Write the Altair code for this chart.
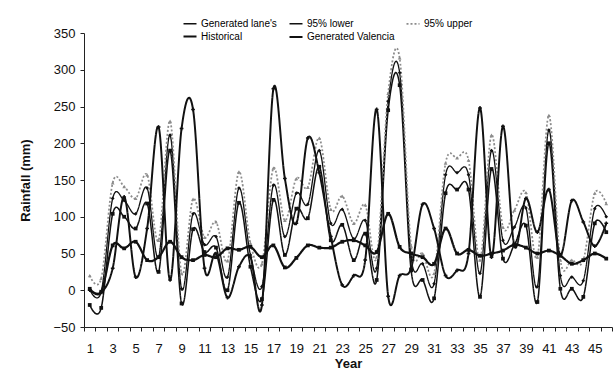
import altair as alt
import pandas as pd

years = list(range(1, 47))

historical = [0, -3, 30, 127, 18, 84, 222, 14, 220, 246, 30, 50, -10, 32, 45, -20,
              274, 152, 91, 207, 160, 73, 7, 20, 41, 246, -8, 20, 30, 117, 84, 20,
              27, 50, 248, 45, 223, 60, 125, 79, 137, 48, 122, 93, 60, 91]
upper = [20, 16, 146, 141, 125, 157, 68, 230, 23, 124, 72, 93, 40, 161, 64, 36,
         166, 95, 152, 140, 207, 110, 128, 91, 116, 45, 268, 316, 60, 50, 23, 173,
         180, 177, 41, 211, 86, 109, 133, 45, 238, 41, 41, 41, 132, 118]
lanes = [1, -2, 125, 122, 104, 139, 45, 211, 2, 104, 62, 73, 18, 139, 48, 5,
         143, 73, 132, 117, 190, 91, 110, 70, 95, 30, 257, 296, 45, 36, 9, 157,
         160, 157, 23, 190, 68, 86, 112, 5, 218, 20, 18, 13, 111, 100]
lower = [-20, -24, 104, 100, 84, 118, 25, 190, -18, 83, 52, 58, 0, 119, 32, -12,
         123, 48, 111, 98, 168, 68, 89, 41, 77, 14, 245, 279, 27, 14, -11, 132,
         137, 137, -9, 165, 43, 62, 88, -16, 200, 2, 2, -9, 91, 79]
valencia = [2, -2, 61, 57, 66, 41, 45, 66, 45, 41, 48, 45, 57, 55, 59, 45,
            61, 31, 44, 61, 58, 58, 66, 68, 61, 52, 104, 59, 50, 45, 36, 84,
            50, 55, 47, 50, 54, 62, 58, 50, 54, 47, 36, 41, 50, 43]

series_names = ["Generated lane's", "95% lower", "95% upper", "Historical", "Generated Valencia"]
series_data = {
    "Generated lane's": lanes,
    "95% lower": lower,
    "95% upper": upper,
    "Historical": historical,
    "Generated Valencia": valencia,
}

rows = []
for name in series_names:
    for y, v in zip(years, series_data[name]):
        rows.append({"year": y, "series": name, "value": v})
df = pd.DataFrame(rows)

FONT = "Liberation Sans, Arial, sans-serif"

colors = ["#111111", "#111111", "#8c8c8c", "#111111", "#111111"]
dashes = [[1, 0], [1, 0], [2, 2], [1, 0], [1, 0]]
widths = [1.3, 2.2, 1.2, 1.8, 1.3]
shapes = ["diamond", "square", "triangle-up", "cross", "square"]

tick_vals = [i + 0.5 for i in range(0, 47)]

x_enc = alt.X(
    "year:Q",
    scale=alt.Scale(domain=[0.5, 46.5], nice=False, zero=False),
    axis=alt.Axis(
        values=tick_vals,
        labelExpr="((datum.value + 0.5) % 2 == 1 && datum.value + 0.5 <= 45) ? format(datum.value + 0.5, 'd') : ''",
        labelOffset=5.74,
        labelOverlap=False,
        labelFlush=False,
        tickSize=4,
        labelPadding=11,
        grid=False,
        title="Year",
        titlePadding=2,
    ),
)
y_enc = alt.Y(
    "value:Q",
    scale=alt.Scale(domain=[-50, 350], nice=False, zero=False),
    axis=alt.Axis(
        values=list(range(-50, 351, 50)),
        grid=False,
        tickSize=4,
        labelPadding=5,
        title="Rainfall (mm)",
        titlePadding=20,
    ),
)

legend_common = dict(
    title=None,
    orient="none",
    legendX=98,
    legendY=-17,
    columns=3,
    direction="horizontal",
    symbolType="stroke",
    symbolSize=169,
    symbolStrokeWidth=1.5,
    labelFont=FONT,
    labelFontSize=10,
    labelOffset=3,
    columnPadding=8,
    rowPadding=-1,
    labelLimit=200,
)

lines = alt.Chart(df).mark_line(interpolate="cardinal").encode(
    x=x_enc,
    y=y_enc,
    color=alt.Color("series:N", scale=alt.Scale(domain=series_names, range=colors),
                    legend=alt.Legend(**legend_common), sort=series_names),
    strokeDash=alt.StrokeDash("series:N", scale=alt.Scale(domain=series_names, range=dashes),
                              legend=alt.Legend(**legend_common), sort=series_names),
    strokeWidth=alt.StrokeWidth("series:N", scale=alt.Scale(domain=series_names, range=widths), legend=None),
    order=alt.Order("year:Q"),
)

point_layers = []
for name, col, shp in zip(series_names, colors, shapes):
    point_layers.append(
        alt.Chart(df)
        .transform_filter(alt.datum.series == name)
        .mark_point(filled=True, size=14, opacity=1, shape=shp, color=col)
        .encode(x=x_enc, y=y_enc)
    )

chart = alt.layer(lines, *point_layers).properties(
    width=528,
    height=294,
    autosize=alt.AutoSizeParams(type="none"),
    padding={"left": 84, "top": 33, "right": 3, "bottom": 54},
    background="white",
).configure_view(stroke=None).configure_axis(
    labelFont=FONT,
    labelFontSize=13,
    labelColor="#111111",
    titleFont=FONT,
    titleFontSize=13,
    titleFontWeight="bold",
    titleColor="#111111",
    domainColor="#222222",
    tickColor="#222222",
)

chart.save("out.html", embed_options={"renderer": "svg", "actions": False})
